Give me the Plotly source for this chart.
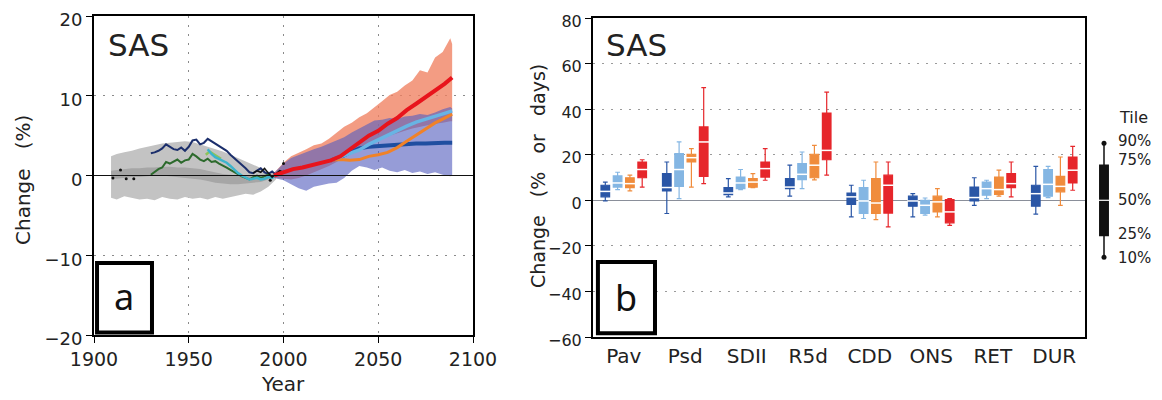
import plotly.graph_objects as go

# ---------------- Panel a data (Change %, SAS) ----------------
hist_years = [1909, 1912, 1916, 1920, 1924, 1928, 1932, 1936, 1940, 1944, 1948, 1952,
              1956, 1960, 1964, 1968, 1972, 1976, 1980, 1984, 1988, 1992, 1996]
hist_upper = [2.4, 2.7, 2.9, 3.1, 3.4, 3.6, 3.8, 4.0, 4.1, 4.2, 4.3, 4.2,
              3.9, 3.6, 3.3, 3.0, 2.6, 2.2, 1.7, 1.3, 0.9, 0.5, 0.1]
hist_lower = [-2.8, -3.0, -2.6, -2.8, -3.0, -2.9, -3.1, -2.7, -2.9, -3.0, -2.7, -2.9,
              -2.8, -3.0, -2.7, -2.9, -2.7, -2.5, -2.3, -2.4, -2.0, -1.4, -0.5]
hist_inner_upper = [0.6, 0.7, 0.8, 0.9, 0.9, 1.0, 1.0, 1.1, 1.1, 1.0, 1.0, 0.9,
                    0.8, 0.6, 0.4, 0.2, 0.1, 0.0, -0.1, 0.0, 0.1, 0.2, 0.1]
hist_inner_lower = [-0.3, -0.4, -0.3, -0.2, -0.2, -0.1, 0.0, 0.0, -0.1, -0.2, -0.3, -0.4,
                    -0.5, -0.7, -0.9, -1.0, -1.1, -1.1, -1.0, -0.9, -0.8, -0.5, -0.2]

obs_years = [1930, 1932, 1934, 1936, 1938, 1940, 1942, 1944, 1946, 1948, 1950, 1952,
             1954, 1956, 1958, 1960, 1962, 1964, 1966, 1968, 1970, 1972, 1974, 1976,
             1978, 1980, 1982, 1984, 1986, 1988, 1990, 1992, 1994, 1996]
obs_navy = [2.8, 2.9, 3.1, 3.4, 3.9, 3.6, 3.3, 3.2, 3.5, 3.1, 3.6, 4.4,
            4.5, 3.9, 4.1, 4.6, 4.3, 4.0, 3.8, 3.4, 3.1, 2.6, 2.2, 1.8,
            1.3, 0.9, 0.4, 0.3, 0.6, 0.9, 0.4, 0.2, 0.5, 0.1]
obs_green = [0.1, 0.5, 0.8, 1.0, 1.7, 1.5, 1.7, 2.0, 1.6, 1.9, 2.0, 2.7,
             2.4, 2.0, 1.8, 2.1, 1.7, 1.8, 1.5, 1.3, 1.0, 0.7, 0.4, 0.2,
             -0.1, -0.3, -0.5, -0.2, 0.0, -0.3, -0.1, 0.1, -0.2, 0.0]

cyan_years = [1960, 1962, 1964, 1966, 1968, 1970, 1972, 1974, 1976, 1978,
              1980, 1982, 1984, 1986, 1988, 1990, 1992, 1994, 1996]
cyan_vals = [3.3, 2.7, 2.3, 2.1, 1.9, 1.6, 1.2, 0.7, 0.3, 0.0,
             -0.3, -0.5, -0.4, -0.3, -0.5, -0.4, -0.2, -0.3, 0.0]
lime_years = [1959, 1961, 1963, 1965, 1967]
lime_vals = [2.6, 3.0, 2.7, 2.4, 2.1]

black_years = [1984, 1986, 1988, 1990, 1992, 1994, 1996, 1998, 2000]
black_vals = [0.3, 0.6, 0.4, 0.9, 0.3, -0.2, 0.2, 0.6, 0.4]
dot_years = [1910, 1914, 1917, 1921, 1993, 2000]
dot_vals = [-0.3, 0.7, -0.4, -0.4, -0.6, 1.5]

fut_band_years = [1995, 2000, 2004, 2008, 2012, 2016, 2020, 2024, 2028, 2032, 2036, 2040,
                  2044, 2048, 2052, 2056, 2060, 2064, 2068, 2072, 2076, 2080, 2084, 2088, 2089]
hi_upper = [0.3, 1.6, 2.4, 2.8, 3.3, 3.8, 4.0, 4.6, 5.3, 6.1, 6.6, 7.3,
            7.8, 8.5, 9.3, 10.1, 10.5, 11.3, 11.9, 13.2, 12.9, 14.8, 15.5, 17.2, 16.5]
hi_lower = [-0.3, -0.4, -0.5, -0.3, 0.0, 0.3, 0.8, 1.2, 1.7, 2.2, 2.8, 3.3,
            3.8, 4.2, 4.6, 5.0, 5.3, 5.6, 5.9, 6.1, 6.3, 6.5, 6.6, 6.8, 6.8]
lo_upper = [0.3, 1.5, 2.2, 2.6, 2.9, 3.3, 3.6, 4.0, 4.4, 4.8, 5.4, 5.9,
            6.5, 6.9, 7.0, 7.2, 7.1, 7.4, 7.5, 7.7, 7.6, 7.9, 8.3, 8.6, 8.4]
lo_lower = [-0.3, -0.6, -1.1, -1.6, -1.9, -1.4, -1.2, -1.0, -0.9, -0.3, 0.6, 1.2,
            1.0, 0.7, 1.0, 0.6, 0.4, 0.7, 0.3, 0.5, 0.2, 0.4, 0.1, -0.1, 0.0]

red_years = [1995, 2000, 2005, 2010, 2015, 2020, 2025, 2030, 2035, 2040, 2045, 2050,
             2055, 2060, 2065, 2070, 2075, 2080, 2085, 2089]
red_vals = [0.0, 0.4, 0.8, 1.0, 1.3, 1.6, 1.9, 2.4, 3.3, 4.2, 5.0, 5.6,
            6.5, 7.2, 8.2, 9.0, 9.8, 10.6, 11.5, 12.3]
scen_years = [2025, 2030, 2035, 2040, 2045, 2050, 2055, 2060, 2065, 2070, 2075, 2080, 2085, 2089]
lblue_vals = [1.9, 2.3, 2.7, 3.2, 3.9, 4.5, 5.1, 5.6, 6.2, 6.7, 7.1, 7.5, 7.8, 8.1]
orange_vals = [1.9, 2.0, 1.9, 2.0, 2.4, 2.6, 2.9, 3.5, 4.3, 5.1, 5.9, 6.6, 7.2, 7.7]
dblue_vals = [1.9, 2.3, 2.9, 3.4, 3.6, 3.7, 3.7, 3.8, 3.9, 4.0, 4.0, 4.1, 4.1, 4.1]

# ---------------- Panel b data (Change % or days) ----------------
categories = ["Pav", "Psd", "SDII", "R5d", "CDD", "ONS", "RET", "DUR"]
scenario_colors = ["#2a56a6", "#84b6e3", "#f08c3c", "#e6262b"]

p10 = [
    [-0.3, -5.8, 1.5, 1.8, -7.3, -7.3, -2.2, -6.1],
    [4.7, 0.7, 4.7, 5.1, -8.0, -6.5, 0.7, 1.2],
    [4.1, 5.8, 5.6, 9.0, -8.5, -7.3, 1.8, -2.2],
    [5.8, 7.3, 8.8, 11.0, -11.7, -11.0, 1.5, 4.4],
]
p25 = [
    [1.5, 4.1, 2.5, 5.1, -1.8, -2.6, -0.3, -2.6],
    [5.8, 6.1, 5.1, 9.1, -5.8, -5.8, 2.2, 1.8],
    [5.6, 16.8, 5.8, 9.9, -5.8, -5.1, 2.6, 3.7],
    [9.9, 10.5, 10.2, 17.8, -5.6, -9.9, 5.6, 7.6],
]
p50 = [
    [3.9, 5.6, 3.2, 5.8, 1.5, -0.3, 1.2, 2.9],
    [7.6, 13.5, 7.6, 11.4, -0.3, -2.2, 5.1, 7.0],
    [7.3, 18.7, 8.0, 15.4, -1.2, -0.7, 4.7, 6.1],
    [13.5, 25.6, 13.9, 21.9, 6.6, -5.1, 7.3, 13.2],
]
p75 = [
    [6.6, 11.7, 5.6, 9.5, 3.2, 1.8, 5.8, 6.6],
    [10.7, 20.5, 10.2, 16.1, 5.6, 0.0, 8.0, 13.5],
    [9.9, 20.2, 9.5, 20.2, 9.5, 1.8, 10.2, 10.5],
    [16.8, 32.2, 16.8, 38.3, 11.0, 0.3, 11.7, 19.0],
]
p90 = [
    [8.0, 16.8, 9.5, 15.4, 6.6, 2.9, 9.9, 14.9],
    [12.3, 25.6, 13.5, 21.2, 8.8, 1.0, 8.8, 14.9],
    [11.0, 22.7, 11.7, 24.1, 16.8, 5.1, 13.2, 19.0],
    [17.8, 49.4, 22.7, 47.5, 16.8, 0.7, 16.8, 23.7],
]

tile_labels = ["90%", "75%", "50%", "25%", "10%"]
tile_label_pos = [26, 17.5, 0, -15, -25.5]
tile_stats = [-25, -15.4, 0, 15.4, 25]  # 10, 25, 50, 75, 90 on legend scale

FONT = "DejaVu Sans"
TXT = "#222222"

# page body has an 8px margin: the figure is placed at (8, 8)
OX, OY = 8, 8
W, H = 1154, 392


def px_x(x):
    return (x - OX) / W


def px_y(y):
    return 1 - (y - OY) / H


fig = go.Figure()


def band(xs, up, lo, color):
    fig.add_trace(go.Scatter(
        x=list(xs) + list(xs)[::-1], y=list(up) + list(lo)[::-1],
        fill="toself", fillcolor=color, mode="lines", line=dict(width=0),
        hoverinfo="skip", showlegend=False, xaxis="x", yaxis="y"))


band(hist_years, hist_upper, hist_lower, "#c3c3c3")
band(hist_years, hist_inner_upper, hist_inner_lower, "#a6a6a6")
band(fut_band_years, hi_upper, hi_lower, "rgba(240,128,96,0.78)")
band(fut_band_years, lo_upper, lo_lower, "rgba(85,95,190,0.62)")


def line(xs, ys, color, width):
    fig.add_trace(go.Scatter(x=xs, y=ys, mode="lines", line=dict(color=color, width=width),
                             showlegend=False, xaxis="x", yaxis="y", hoverinfo="skip"))


line(obs_years, obs_navy, "#1c2f6c", 2)
line(obs_years, obs_green, "#2c6a2c", 2)
line(lime_years, lime_vals, "#8cc45a", 2.5)
line(cyan_years, cyan_vals, "#3cb4cc", 2.5)
line(black_years, black_vals, "#111111", 1.5)
fig.add_trace(go.Scatter(x=dot_years, y=dot_vals, mode="markers",
                         marker=dict(color="#111111", size=3), showlegend=False,
                         xaxis="x", yaxis="y", hoverinfo="skip"))
line(scen_years, dblue_vals, "#1f4ea0", 4)
line(scen_years, orange_vals, "#f08228", 3)
line(scen_years, lblue_vals, "#68b4e4", 3.5)
line(red_years, red_vals, "#e8141c", 4)

# ---- panel b boxes ----
offsets = [-0.3, -0.1, 0.1, 0.3]
for j in range(4):
    xs = [i + offsets[j] for i in range(len(categories))]
    fig.add_trace(go.Box(
        x=xs, q1=p25[j], median=p50[j], q3=p75[j],
        lowerfence=p10[j], upperfence=p90[j],
        width=0.14, whiskerwidth=0.55, boxpoints=False,
        fillcolor=scenario_colors[j], line=dict(color=scenario_colors[j], width=1.2),
        showlegend=False, xaxis="x2", yaxis="y2", hoverinfo="skip"))
    fig.add_trace(go.Scatter(
        x=xs, y=p50[j], mode="markers",
        marker=dict(symbol="line-ew", size=8, line=dict(color="white", width=1.5)),
        showlegend=False, xaxis="x2", yaxis="y2", hoverinfo="skip"))

# ---- Tile legend glyph (own axes, same vertical scale as panel b) ----
fig.add_trace(go.Box(
    x=[0], lowerfence=[tile_stats[0]], q1=[tile_stats[1]], median=[tile_stats[2]],
    q3=[tile_stats[3]], upperfence=[tile_stats[4]], width=0.7, whiskerwidth=0.01,
    boxpoints=False, fillcolor="#111111", line=dict(color="#111111", width=1.5),
    showlegend=False, xaxis="x3", yaxis="y3", hoverinfo="skip"))
fig.add_trace(go.Scatter(
    x=[0], y=[tile_stats[2]], mode="markers",
    marker=dict(symbol="line-ew", size=9, line=dict(color="white", width=1.2)),
    showlegend=False, xaxis="x3", yaxis="y3", hoverinfo="skip"))
fig.add_trace(go.Scatter(
    x=[0, 0], y=[tile_stats[0], tile_stats[4]], mode="markers",
    marker=dict(color="#111111", size=5), showlegend=False,
    xaxis="x3", yaxis="y3", hoverinfo="skip"))

frame = dict(showline=True, mirror=True, linecolor="black", linewidth=2,
             automargin=False, ticklabeloverflow="allow")

yb_dom = [px_y(337), px_y(18)]

fig.update_layout(
    width=W, height=H,
    margin=dict(l=0, r=0, t=0, b=0, autoexpand=False),
    paper_bgcolor="white", plot_bgcolor="white",
    xaxis=dict(domain=[px_x(94), px_x(473)], range=[1900, 2100],
               tickvals=[1900, 1950, 2000, 2050, 2100], ticks="outside", ticklen=6,
               tickcolor="black", showgrid=True, gridcolor="#8a8a8a", griddash="2px,7px",
               anchor="y", zeroline=False, tickfont=dict(family=FONT, size=19, color=TXT),
               **frame),
    yaxis=dict(domain=[px_y(335), px_y(16)], range=[-20, 20],
               tickvals=[-20, -10, 0, 10, 20], ticktext=["\u221220", "\u221210", "0", "10", "20"],
               ticks="outside", ticklen=6, tickcolor="black", ticklabelshift=4,
               showgrid=True, gridcolor="#8a8a8a", griddash="2px,7px",
               anchor="x", zeroline=False, tickfont=dict(family=FONT, size=18, color=TXT),
               **frame),
    xaxis2=dict(domain=[px_x(593), px_x(1085)], range=[-0.5, 7.5],
                tickvals=list(range(len(categories))), ticktext=categories,
                ticks="", showgrid=False, anchor="y2", zeroline=False,
                tickfont=dict(family=FONT, size=20, color=TXT), **frame),
    yaxis2=dict(domain=yb_dom, range=[-60, 80],
                tickvals=[-60, -40, -20, 0, 20, 40, 60, 80],
                ticktext=["\u221260", "\u221240", "\u221220", "0", "20", "40", "60", "80"],
                ticks="outside", ticklen=6, tickcolor="black", ticklabelshift=3,
                showgrid=True, gridcolor="#9a9a9a", griddash="2px,7px",
                anchor="x2", zeroline=True, zerolinecolor="#8a8f9a", zerolinewidth=1.2,
                tickfont=dict(family=FONT, size=16, color=TXT), **frame),
    xaxis3=dict(domain=[px_x(1098), px_x(1110)], range=[-0.5, 0.5], visible=False,
                anchor="y3", automargin=False),
    yaxis3=dict(domain=yb_dom, range=[-60, 80], visible=False, anchor="x3",
                automargin=False, showgrid=False, zeroline=False),
)

# zero line on top of bands in panel a
fig.add_shape(type="line", xref="x domain", x0=0, x1=1, yref="y", y0=0, y1=0,
              line=dict(color="#111111", width=1.2), layer="above")

# label boxes a and b
fig.add_shape(type="rect", xref="x domain", yref="y domain", x0=0.008, x1=0.153,
              y0=0.008, y1=0.226, line=dict(color="black", width=4),
              fillcolor="white", layer="above")
fig.add_shape(type="rect", xref="x2 domain", yref="y2 domain", x0=0.010, x1=0.126,
              y0=0.012, y1=0.235, line=dict(color="black", width=4),
              fillcolor="white", layer="above")

ann = []
ann.append(dict(text="a", xref="x domain", yref="y domain", x=0.08, y=0.12,
                xanchor="center", yanchor="middle",
                showarrow=False, font=dict(family="Noto Sans", size=36, color="#111")))
ann.append(dict(text="b", xref="x2 domain", yref="y2 domain", x=0.068, y=0.125,
                xanchor="center", yanchor="middle",
                showarrow=False, font=dict(family="Noto Sans", size=36, color="#111")))
ann.append(dict(text="SAS", xref="paper", yref="paper", x=px_x(106), y=px_y(45),
                xanchor="left", yanchor="middle", showarrow=False,
                font=dict(family=FONT, size=31, color=TXT)))
ann.append(dict(text="SAS", xref="paper", yref="paper", x=px_x(604), y=px_y(45),
                xanchor="left", yanchor="middle", showarrow=False,
                font=dict(family=FONT, size=31, color=TXT)))
ann.append(dict(text="Change   (%)", xref="paper", yref="paper", x=px_x(23), y=px_y(180),
                xanchor="center", yanchor="middle",
                textangle=-90, showarrow=False, font=dict(family=FONT, size=20, color=TXT)))
ann.append(dict(text="Change   (%   or   days)", xref="paper", yref="paper", x=px_x(538),
                y=px_y(176), xanchor="center", yanchor="middle", textangle=-90,
                showarrow=False, font=dict(family=FONT, size=19, color=TXT)))
ann.append(dict(text="Year", xref="paper", yref="paper", x=px_x(283), y=px_y(384),
                xanchor="center", yanchor="middle",
                showarrow=False, font=dict(family=FONT, size=20, color=TXT)))
ann.append(dict(text="Tile", xref="paper", yref="paper", x=px_x(1117), y=px_y(117),
                xanchor="left", yanchor="middle",
                showarrow=False, font=dict(family=FONT, size=16, color=TXT)))
for lab, pos in zip(tile_labels, tile_label_pos):
    ann.append(dict(text=lab, xref="paper", yref="y3", x=px_x(1116), y=pos,
                    xanchor="left", yanchor="middle", showarrow=False,
                    font=dict(family=FONT, size=15, color=TXT)))
fig.update_layout(annotations=ann)

fig.write_html("out.html")
